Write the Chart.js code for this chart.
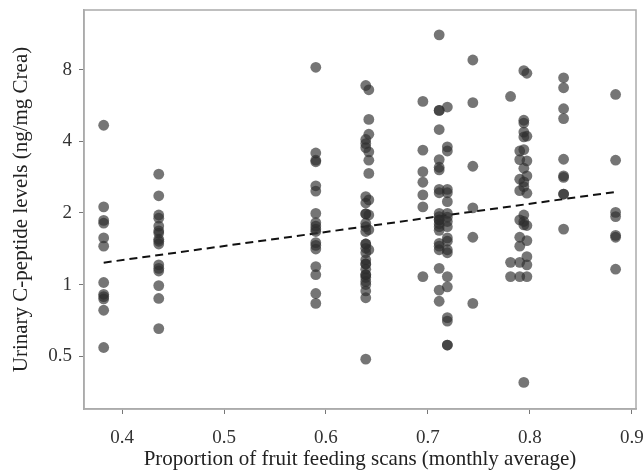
<!DOCTYPE html>
<html>
<head>
<meta charset="utf-8">
<script src="https://cdn.jsdelivr.net/npm/chart.js@4.4.1/dist/chart.umd.min.js"></script>
<style>
  html, body { margin: 0; padding: 0; background: #fff; }
  #wrap { width: 644px; height: 471px; }
</style>
</head>
<body>
<div id="wrap"><canvas id="c" width="644" height="471"></canvas></div>
<script>
/* ---- data ---- */
var colX = [0.382, 0.436, 0.590, 0.639, 0.642, 0.695, 0.711, 0.719, 0.744, 0.781, 0.790, 0.794, 0.797, 0.833, 0.884];

var col0382 = [4.67, 2.12, 1.86, 1.81, 1.57, 1.45, 1.02, 0.91, 0.89, 0.87, 0.78, 0.544];
var col0436 = [2.91, 2.36, 1.96, 1.90, 1.76, 1.68, 1.645, 1.55, 1.52, 1.48, 1.21, 1.17, 1.14, 0.99, 0.874, 0.653];
var col0590 = [8.18, 3.57, 3.33, 3.28, 2.60, 2.47, 1.99, 1.82, 1.76, 1.71, 1.67, 1.50, 1.46, 1.41, 1.19, 1.10, 0.917, 0.833];
var col0639 = [6.86, 4.07, 3.91, 3.76, 2.34, 2.20, 1.98, 1.98, 1.81, 1.75, 1.67, 1.48, 1.48, 1.42, 1.36, 1.27, 1.22, 1.22, 1.16, 1.10, 1.10, 1.07, 1.03, 1.00, 0.94, 0.88, 0.486];
var col0642 = [6.58, 4.94, 4.28, 3.61, 3.33, 2.93, 2.27, 1.96, 1.70, 1.40];
var col0695 = [5.88, 3.67, 2.98, 2.69, 2.38, 2.12, 1.08];
var col0711 = [11.2, 5.39, 5.39, 4.48, 3.35, 3.11, 3.03, 2.51, 2.43, 1.99, 1.93, 1.87, 1.87, 1.80, 1.75, 1.69, 1.49, 1.45, 1.40, 1.17, 0.947, 0.851];
var col0719 = [5.57, 3.79, 3.64, 2.51, 2.43, 2.23, 1.99, 1.92, 1.84, 1.75, 1.57, 1.52, 1.40, 1.36, 1.08, 0.978, 0.726, 0.702, 0.557, 0.557];
var col0744 = [8.78, 5.81, 3.14, 2.10, 1.58, 0.833];
var col0781 = [6.17, 1.24, 1.08];
var col0790 = [3.64, 3.35, 2.77, 2.48, 1.87, 1.58, 1.45, 1.24, 1.08];
var col0794 = [7.92, 4.90, 4.77, 4.37, 4.17, 3.69, 3.08, 2.70, 2.58, 1.96, 1.84, 1.78, 0.388];
var col0797 = [7.72, 4.20, 3.31, 2.86, 2.42, 1.77, 1.53, 1.31, 1.21, 1.08];
var col0833 = [7.39, 6.71, 5.48, 4.98, 3.36, 2.86, 2.82, 2.40, 2.40, 1.71];
var col0884 = [6.29, 3.33, 2.01, 1.93, 1.61, 1.58, 1.16];

var colValues = [col0382, col0436, col0590, col0639, col0642, col0695, col0711, col0719,
                 col0744, col0781, col0790, col0794, col0797, col0833, col0884];

// fitted line (end points)
var fitX = [0.382, 0.884];
var fitY = [1.236, 2.45];

var xTicks = [0.4, 0.5, 0.6, 0.7, 0.8, 0.9];
var yTicks = [0.5, 1, 2, 4, 8];

/* ---- build points ---- */
var points = [];
colValues.forEach(function(vals, i) {
    vals.forEach(function(v) { points.push({ x: colX[i], y: v }); });
});
var fitLine = fitX.map(function(x, i) { return { x: x, y: fitY[i] }; });

var SERIF = '"Liberation Serif", "DejaVu Serif", serif';

// box round the plot area
var frame = {
    id: 'frame',
    afterDraw: function(chart) {
        var a = chart.chartArea, ctx = chart.ctx;
        ctx.save();
        ctx.strokeStyle = '#ababab';
        ctx.lineWidth = 1.5;
        ctx.strokeRect(a.left, a.top, a.right - a.left, a.bottom - a.top);
        ctx.restore();
    }
};

new Chart(document.getElementById('c'), {
    type: 'scatter',
    data: {
        datasets: [
            {
                label: 'scans',
                data: points,
                backgroundColor: 'rgba(45,45,45,0.66)',
                borderWidth: 0,
                pointRadius: 5.4,
                pointHoverRadius: 5.4
            },
            {
                type: 'line',
                label: 'fit',
                data: fitLine,
                borderColor: '#111',
                borderWidth: 2,
                borderDash: [8, 5],
                pointRadius: 0,
                fill: false
            }
        ]
    },
    options: {
        responsive: false,
        animation: false,
        layout: { padding: { top: 10, right: 8, left: 0, bottom: 0 } },
        plugins: { legend: { display: false }, tooltip: { enabled: false } },
        scales: {
            x: {
                type: 'linear',
                min: 0.3627,
                max: 0.904,
                afterBuildTicks: function(s) { s.ticks = xTicks.map(function(v) { return { value: v }; }); },
                afterFit: function(s) { s.height = 62; s.paddingLeft = 0; s.paddingRight = 0; },
                grid: { drawOnChartArea: false, drawTicks: true, tickLength: 5, color: '#777' },
                border: { color: '#ababab', width: 1.5 },
                ticks: {
                    color: '#333', padding: 13,
                    font: { family: SERIF, size: 19 },
                    maxRotation: 0,
                    callback: function(v) { return String(v); }
                },
                title: {
                    display: true,
                    text: 'Proportion of fruit feeding scans (monthly average)',
                    color: '#222',
                    font: { family: SERIF, size: 21, lineHeight: 1.1 },
                    padding: { top: 0, bottom: 0 }
                }
            },
            y: {
                type: 'logarithmic',
                min: 0.314,
                max: 14.24,
                afterBuildTicks: function(s) { s.ticks = yTicks.map(function(v) { return { value: v }; }); },
                afterFit: function(s) { s.width = 84; s.paddingTop = 0; s.paddingBottom = 0; },
                grid: { drawOnChartArea: false, drawTicks: true, tickLength: 5, color: '#777' },
                border: { color: '#ababab', width: 1.5 },
                ticks: {
                    color: '#333', padding: 7,
                    font: { family: SERIF, size: 19 },
                    callback: function(v) { return String(v); }
                },
                title: {
                    display: true,
                    text: 'Urinary C-peptide levels (ng/mg Crea)',
                    color: '#222',
                    font: { family: SERIF, size: 21 },
                    padding: { top: 9, bottom: 0 }
                }
            }
        }
    },
    plugins: [frame]
});
</script>
</body>
</html>
